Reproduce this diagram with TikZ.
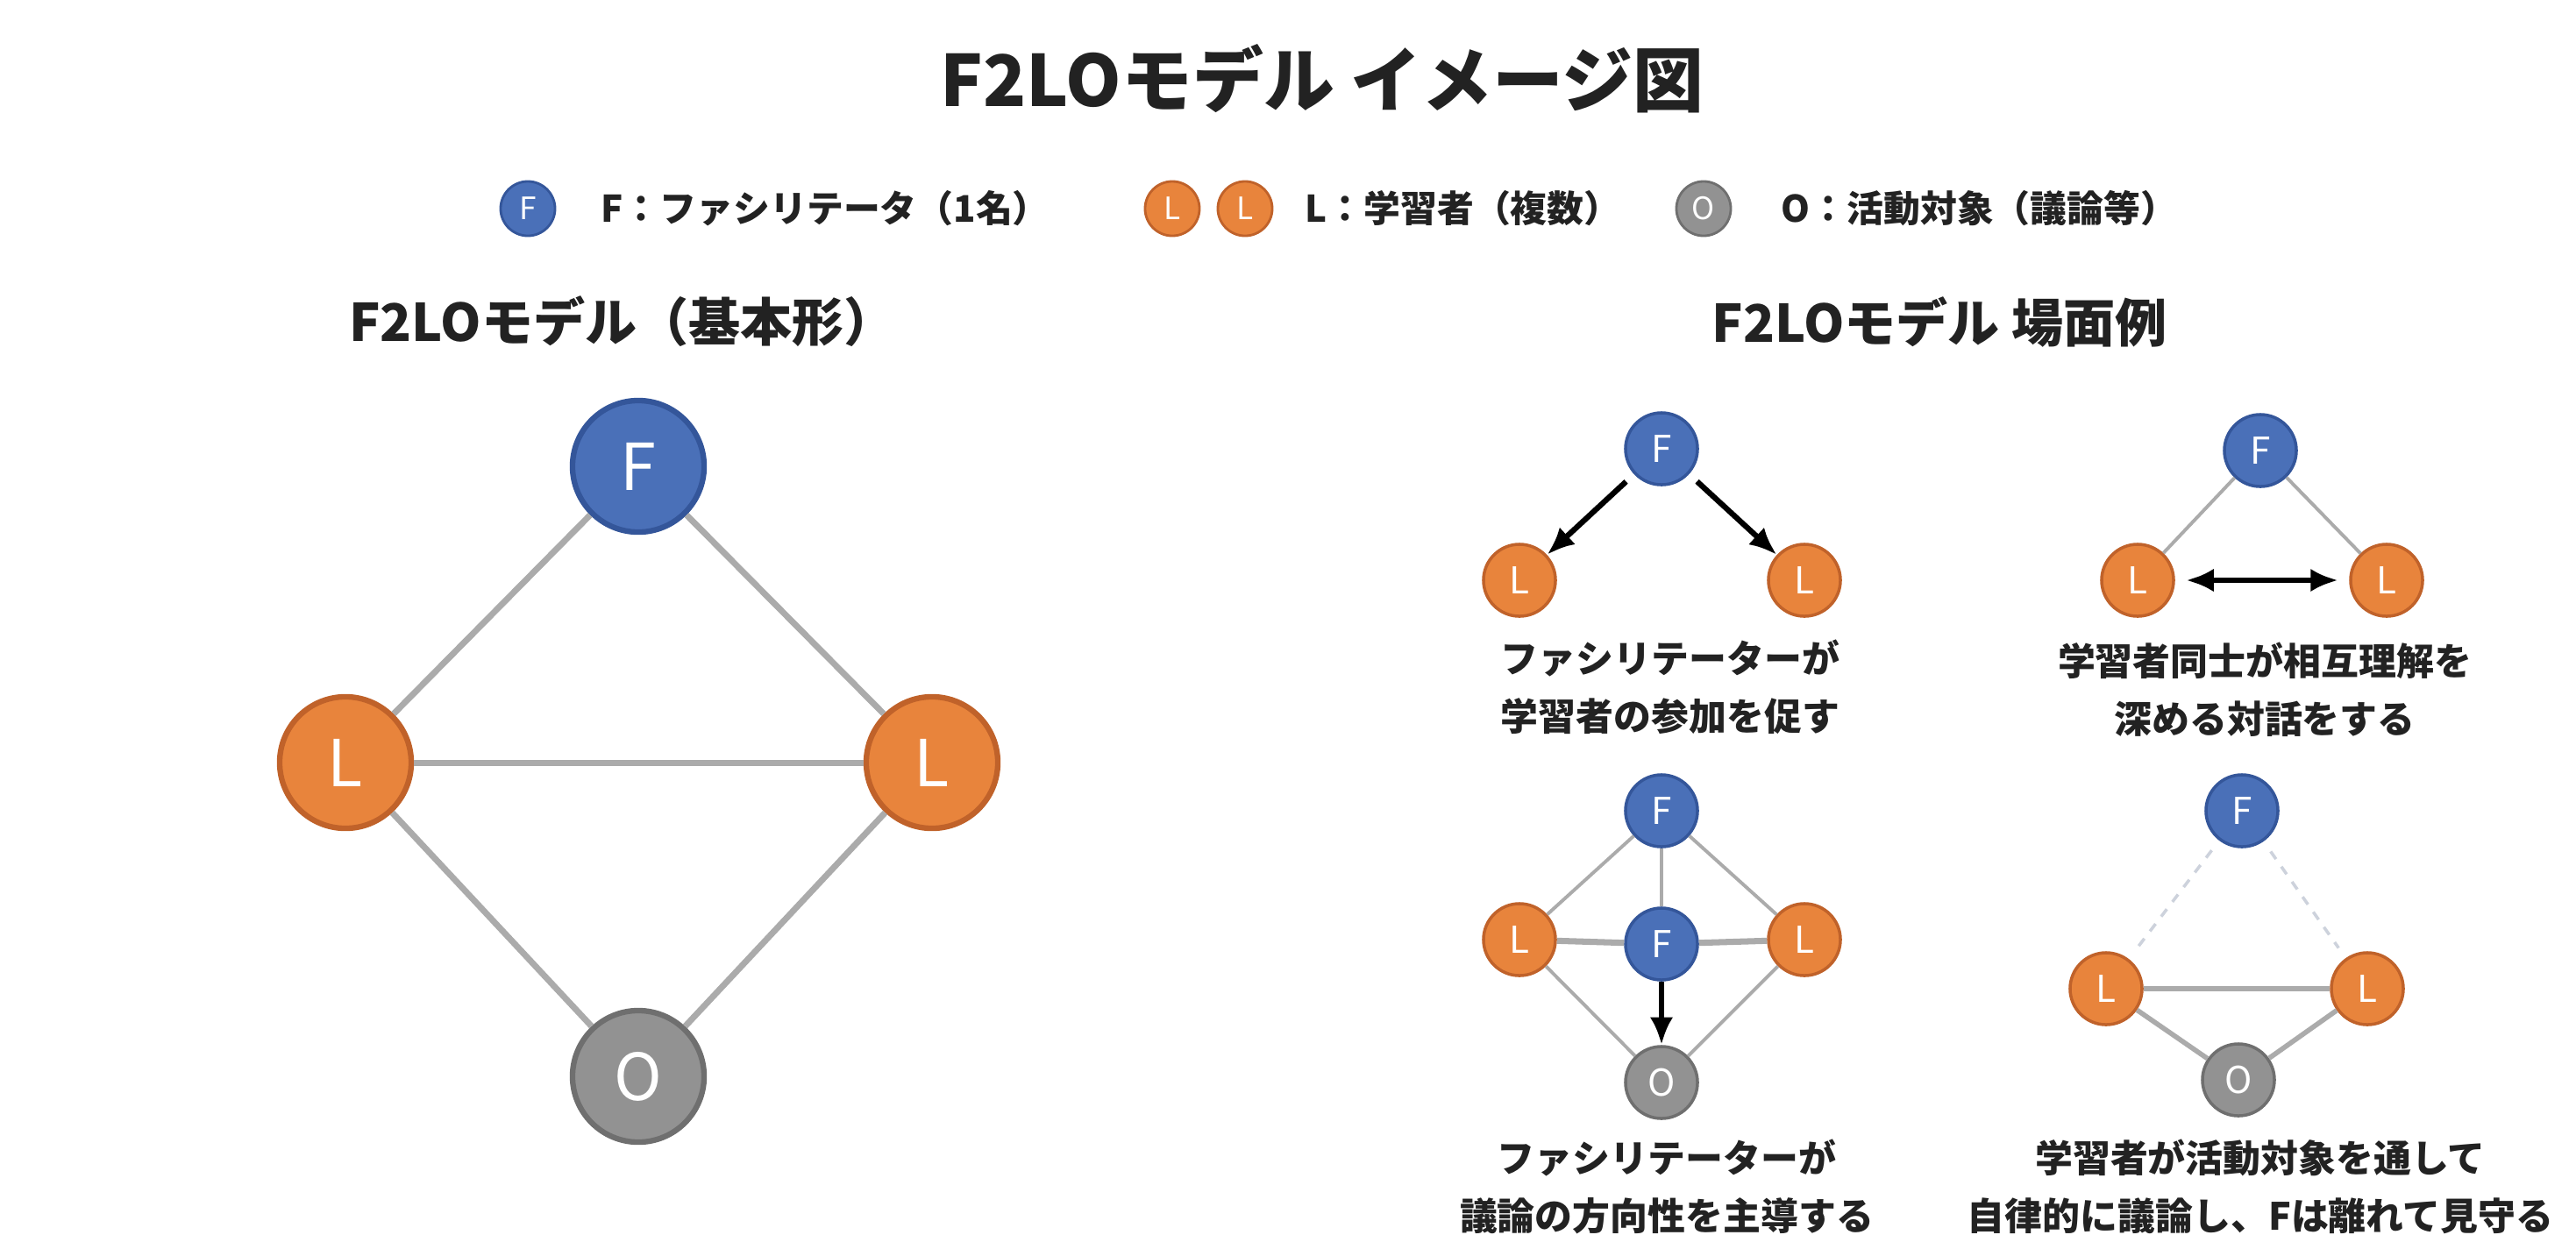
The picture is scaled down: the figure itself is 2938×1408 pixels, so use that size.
\documentclass[tikz,border=0pt]{standalone}
\usepackage{fontspec}
\setmainfont{Noto Sans CJK JP}
\usepackage{tikz}
\usetikzlibrary{arrows.meta}
\definecolor{ink}{HTML}{222222}
\definecolor{fblue}{HTML}{4A70B8}
\definecolor{fblueline}{HTML}{34569A}
\definecolor{lorange}{HTML}{E8843C}
\definecolor{lorangeline}{HTML}{C0622A}
\definecolor{ogray}{HTML}{929292}
\definecolor{ograyline}{HTML}{6F6F6F}
\definecolor{edgegray}{HTML}{ABABAB}
\definecolor{dashgray}{HTML}{CDD2DC}

\begin{document}
\begin{tikzpicture}[x=0.01cm,y=-0.01cm,>={Latex[length=9pt,width=7.5pt]},
  agent/.style={circle,inner sep=0pt,text=white},
  fnode/.style={agent,fill=fblue,draw=fblueline},
  lnode/.style={agent,fill=lorange,draw=lorangeline},
  onode/.style={agent,fill=ogray,draw=ograyline},
  bigdot/.style={minimum size=1.5cm,line width=1.8pt,font=\fontsize{21}{21}\selectfont},
  smalldot/.style={minimum size=0.82cm,line width=1pt,font=\fontsize{12}{12}\selectfont},
  keydot/.style={minimum size=0.62cm,line width=0.8pt,font=\fontsize{10}{10}\selectfont},
  keytext/.style={anchor=west,inner sep=0pt,text=ink,font=\bfseries\fontsize{11.9}{11.9}\selectfont},
  heading/.style={text=ink,inner sep=0pt,font=\bfseries\fontsize{16.8}{16.8}\selectfont},
  caption/.style={align=center,text=ink,inner sep=0pt,font=\bfseries\fontsize{12.2}{18.8}\selectfont},
  biglink/.style={draw=edgegray,line width=2pt},
  link/.style={draw=edgegray,line width=1.1pt},
  push/.style={->,draw=black,line width=1.8pt}]
  \fill[white] (0,0) rectangle (2938,1408);
  \useasboundingbox (0,0) rectangle (2938,1408);

  \node[text=ink,inner sep=0pt,font=\bfseries\fontsize{23}{23}\selectfont] (title) at (1508,90) {F2LOモデル イメージ図};

  \node[fnode,keydot] (keyF) at (602,238) {F};
  \node[keytext] (keyFtext) at (685,238) {F：ファシリテータ（1名）};
  \node[lnode,keydot] (keyL1) at (1337,238) {L};
  \node[lnode,keydot] (keyL2) at (1420,238) {L};
  \node[keytext] (keyLtext) at (1488,238) {L：学習者（複数）};
  \node[onode,keydot] (keyO) at (1943,238) {O};
  \node[keytext] (keyOtext) at (2031,238) {O：活動対象（議論等）};

  \node[heading] (basichead) at (710,367) {F2LOモデル（基本形）};
  \node[heading] (scenehead) at (2212,367) {F2LOモデル 場面例};

  \node[fnode,bigdot] (F) at (728,532) {F};
  \node[lnode,bigdot] (L1) at (394,870) {L};
  \node[lnode,bigdot] (L2) at (1063,870) {L};
  \node[onode,bigdot] (O) at (728,1228) {O};
  \draw[biglink] (F) -- (L1);
  \draw[biglink] (F) -- (L2);
  \draw[biglink] (L1) -- (L2);
  \draw[biglink] (L1) -- (O);
  \draw[biglink] (L2) -- (O);

  \node[fnode,smalldot] (aF) at (1895,512) {F};
  \node[lnode,smalldot] (aL1) at (1733,662) {L};
  \node[lnode,smalldot] (aL2) at (2058,662) {L};
  \draw[push,shorten <=3.5pt] (aF) -- (aL1);
  \draw[push,shorten <=3.5pt] (aF) -- (aL2);
  \node[caption] (acap) at (1905,784) {ファシリテーターが\\学習者の参加を促す};

  \node[fnode,smalldot] (bF) at (2578,514) {F};
  \node[lnode,smalldot] (bL1) at (2438,662) {L};
  \node[lnode,smalldot] (bL2) at (2722,662) {L};
  \draw[link] (bF) -- (bL1);
  \draw[link] (bF) -- (bL2);
  \draw[push,<->,shorten <=3.5pt,shorten >=3.5pt] (bL1) -- (bL2);
  \node[caption] (bcap) at (2583,787) {学習者同士が相互理解を\\深める対話をする};

  \node[fnode,smalldot] (cF) at (1895,925) {F};
  \node[lnode,smalldot] (cL1) at (1733,1072) {L};
  \node[fnode,smalldot] (cFm) at (1895,1077) {F};
  \node[lnode,smalldot] (cL2) at (2058,1072) {L};
  \node[onode,smalldot] (cO) at (1895,1235) {O};
  \draw[link] (cF) -- (cL1);
  \draw[link] (cF) -- (cL2);
  \draw[link] (cF) -- (cFm);
  \draw[link,line width=2pt] (cL1) -- (cFm);
  \draw[link,line width=2pt] (cFm) -- (cL2);
  \draw[link] (cL1) -- (cO);
  \draw[link] (cL2) -- (cO);
  \draw[push] (cFm) -- (cO);
  \node[caption] (ccap) at (1901,1354) {ファシリテーターが\\議論の方向性を主導する};

  \node[fnode,smalldot] (dF) at (2557,925) {F};
  \node[lnode,smalldot] (dL1) at (2402,1128) {L};
  \node[lnode,smalldot] (dL2) at (2700,1128) {L};
  \node[onode,smalldot] (dO) at (2553,1232) {O};
  \draw[draw=dashgray,line width=1pt,dashed,shorten <=4pt,shorten >=4pt] (dF) -- (dL1);
  \draw[draw=dashgray,line width=1pt,dashed,shorten <=4pt,shorten >=4pt] (dF) -- (dL2);
  \draw[link,line width=1.6pt] (dL1) -- (dL2);
  \draw[link,line width=1.6pt] (dL1) -- (dO);
  \draw[link,line width=1.6pt] (dL2) -- (dO);
  \node[caption] (dcap) at (2578,1354) {学習者が活動対象を通して\\自律的に議論し、Fは離れて見守る};
\end{tikzpicture}
\end{document}
